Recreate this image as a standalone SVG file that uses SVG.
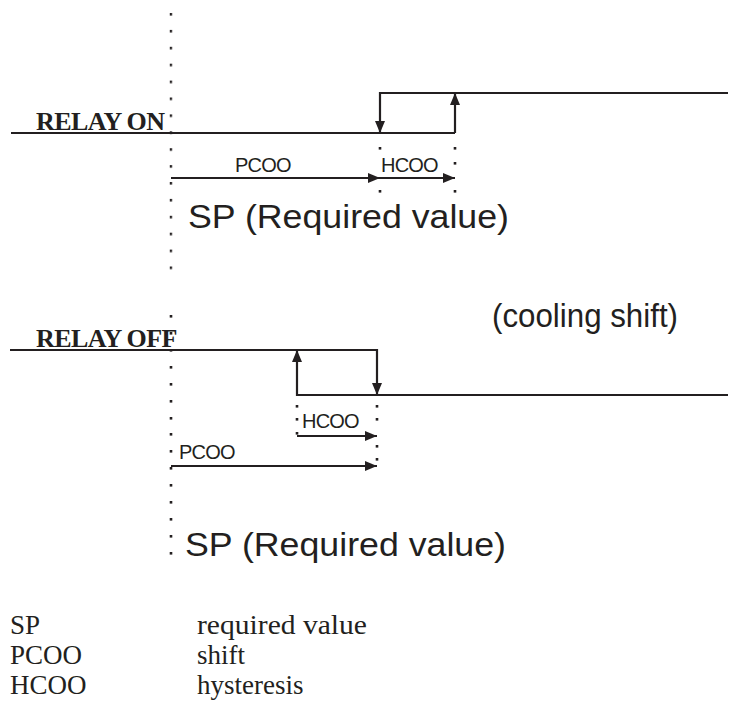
<svg xmlns="http://www.w3.org/2000/svg" width="731" height="713" viewBox="0 0 731 713">
<defs>
<style>
.ln{stroke:#231f20;stroke-width:2.2;fill:none}
.dot{fill:#231f20}
.relay{font-family:"Liberation Serif",serif;font-weight:bold;font-size:26px;fill:#231f20;letter-spacing:-0.6px}
.lbl{font-family:"Liberation Sans",Arial,sans-serif;font-size:20px;fill:#231f20;letter-spacing:-0.8px}
.big{font-family:"Liberation Sans",Arial,sans-serif;font-size:34px;fill:#231f20}
.leg{font-family:"Liberation Serif",serif;font-size:27px;fill:#231f20}
</style>
<marker id="ah" viewBox="0 0 12 10" refX="12" refY="5" markerWidth="12" markerHeight="10" markerUnits="userSpaceOnUse" orient="auto">
<path d="M0,0 L12,5 L0,10 Z" fill="#231f20"/>
</marker>
<pattern id="vdots" x="169.7" y="13" width="3" height="16.9" patternUnits="userSpaceOnUse">
<rect width="2.6" height="2.6" fill="#231f20"/>
</pattern>
</defs>
<rect width="731" height="713" fill="#ffffff"/>

<g id="guides">
<rect x="169.7" y="13" width="2.6" height="257" fill="url(#vdots)"/>
<g id="upper-guides" class="dot">
<rect x="378.7" y="147" width="2.6" height="2.6"/>
<rect x="378.7" y="190" width="2.6" height="2.6"/>
<rect x="453.7" y="147" width="2.6" height="2.6"/>
<rect x="453.7" y="162" width="2.6" height="2.6"/>
<rect x="453.7" y="190" width="2.6" height="2.6"/>
</g>
<g id="lower-guides" class="dot">
<rect x="169.7" y="315" width="2.6" height="2.6"/>
<rect x="169.7" y="332" width="2.6" height="2.6"/>
<rect x="169.7" y="349" width="2.6" height="2.6"/>
<rect x="169.7" y="366" width="2.6" height="2.6"/>
<rect x="169.7" y="383" width="2.6" height="2.6"/>
<rect x="169.7" y="400" width="2.6" height="2.6"/>
<rect x="169.7" y="417" width="2.6" height="2.6"/>
<rect x="169.7" y="433" width="2.6" height="2.6"/>
<rect x="169.7" y="450" width="2.6" height="2.6"/>
<rect x="169.7" y="467" width="2.6" height="2.6"/>
<rect x="169.7" y="484" width="2.6" height="2.6"/>
<rect x="169.7" y="501" width="2.6" height="2.6"/>
<rect x="169.7" y="518" width="2.6" height="2.6"/>
<rect x="169.7" y="535" width="2.6" height="2.6"/>
<rect x="169.7" y="552" width="2.6" height="2.6"/>
<rect x="295.7" y="405" width="2.6" height="2.6"/>
<rect x="295.7" y="418" width="2.6" height="2.6"/>
<rect x="295.7" y="432" width="2.6" height="2.6"/>
<rect x="375.7" y="405" width="2.6" height="2.6"/>
<rect x="375.7" y="418" width="2.6" height="2.6"/>
<rect x="375.7" y="445" width="2.6" height="2.6"/>
<rect x="375.7" y="458" width="2.6" height="2.6"/>
</g>
</g>

<g id="connectors">
<polyline class="ln" points="11,133 455,133"/>
<polyline class="ln" points="728,93 380,93 380,133" marker-end="url(#ah)"/>
<line class="ln" x1="455" y1="133" x2="455" y2="93" marker-end="url(#ah)"/>
<line class="ln" x1="171" y1="178" x2="380" y2="178" marker-end="url(#ah)"/>
<line class="ln" x1="380" y1="178" x2="455" y2="178" marker-end="url(#ah)"/>
<polyline class="ln" points="10,350 377,350 377,395" marker-end="url(#ah)"/>
<polyline class="ln" points="728,395 297,395 297,350" marker-end="url(#ah)"/>
<line class="ln" x1="297" y1="436" x2="377" y2="436" marker-end="url(#ah)"/>
<line class="ln" x1="171" y1="466" x2="377" y2="466" marker-end="url(#ah)"/>
</g>

<g id="relay-on">
<text class="relay" x="36" y="130">RELAY ON</text>
<text class="lbl" x="235" y="172">PCOO</text>
<text class="lbl" x="381" y="172">HCOO</text>
<text class="big" x="188" y="228" textLength="321" lengthAdjust="spacingAndGlyphs">SP (Required value)</text>
</g>

<g id="relay-off">
<text class="relay" x="36" y="347">RELAY OFF</text>
<text class="big" x="492" y="327" textLength="186" lengthAdjust="spacingAndGlyphs">(cooling shift)</text>
<text class="lbl" x="302" y="428">HCOO</text>
<text class="lbl" x="179" y="459">PCOO</text>
<text class="big" x="185" y="556" textLength="321" lengthAdjust="spacingAndGlyphs">SP (Required value)</text>
</g>

<g id="legend">
<text class="leg" x="10" y="634">SP</text>
<text class="leg" x="197" y="634" textLength="170" lengthAdjust="spacingAndGlyphs">required value</text>
<text class="leg" x="10" y="664">PCOO</text>
<text class="leg" x="197" y="664">shift</text>
<text class="leg" x="10" y="694">HCOO</text>
<text class="leg" x="197" y="694">hysteresis</text>
</g>
</svg>
